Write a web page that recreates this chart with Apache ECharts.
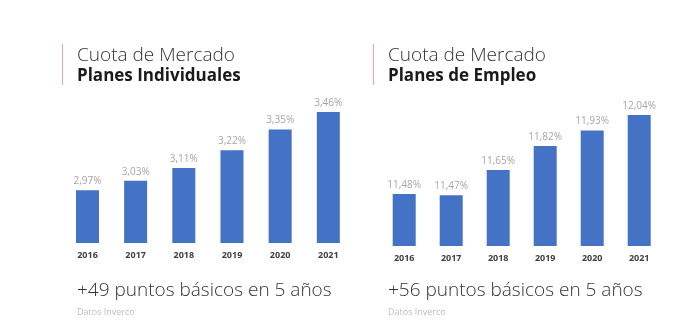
<!DOCTYPE html>
<html>
<head>
<meta charset="utf-8">
<script src="https://cdn.jsdelivr.net/npm/echarts@6/dist/echarts.min.js"></script>
<style>
  html, body { margin: 0; padding: 0; background: #ffffff; }
  #chart { width: 678px; height: 324px; }
</style>
</head>
<body>
<div id="chart"></div>
<script>
// Years shown on both panels
const years = ['2016', '2017', '2018', '2019', '2020', '2021'];
// Market share, individual plans (%)
const individualShare = [2.97, 3.03, 3.11, 3.22, 3.35, 3.46];
// Market share, employment plans (%)
const employmentShare = [11.48, 11.47, 11.65, 11.82, 11.93, 12.04];

const panelTitles = ['Planes Individuales', 'Planes de Empleo'];
const panelSubtitle = 'Cuota de Mercado';
const panelNotes = ['+49 puntos básicos en 5 años', '+56 puntos básicos en 5 años'];
const sourceNote = 'Datos Inverco';

const FONT = '"Open Sans", "Noto Sans", sans-serif';
const BAR = '#4472c4';

function pct(v) {
  return v.toFixed(2).replace('.', ',') + '%';
}

const chart = echarts.init(document.getElementById('chart'), null, { renderer: 'canvas' });

function headerGraphics(x, lineX, idx) {
  return [
    { type: 'rect', shape: { x: lineX, y: 44, width: 1, height: 41 }, style: { fill: '#f4a3a3' } },
    { type: 'text', x: x, y: 56, style: { text: panelSubtitle, font: '300 19px ' + FONT, fill: '#333333', textVerticalAlign: 'middle' } },
    { type: 'text', x: x, y: 76, style: { text: panelTitles[idx], font: '700 17px ' + FONT, fill: '#1a1a1a', textVerticalAlign: 'middle' } },
    { type: 'text', x: x, y: 291, style: { text: panelNotes[idx], font: '300 19px ' + FONT, fill: '#333333', textVerticalAlign: 'middle' } },
    { type: 'text', x: x, y: 312, style: { text: sourceNote, font: '9px ' + FONT, fill: '#bdbdbd', textVerticalAlign: 'middle' } }
  ];
}

const xAxisCommon = {
  type: 'category',
  data: years,
  axisLine: { show: false },
  axisTick: { show: false },
  axisLabel: { color: '#404040', fontSize: 9, fontWeight: 'bold', fontFamily: FONT, margin: 8 }
};
const yAxisCommon = {
  type: 'value',
  show: false,
  splitLine: { show: false }
};
const labelCommon = {
  show: true,
  position: 'top',
  distance: 4,
  color: '#a6a6a6',
  fontSize: 10,
  fontFamily: FONT,
  formatter: p => pct(p.value)
};

chart.setOption({
  animation: false,
  grid: [
    { left: 63.4, width: 289, top: 112, height: 131 },
    { left: 380.7, width: 282, top: 115, height: 131 }
  ],
  xAxis: [
    Object.assign({ gridIndex: 0 }, xAxisCommon),
    Object.assign({ gridIndex: 1 }, xAxisCommon)
  ],
  yAxis: [
    Object.assign({ gridIndex: 0, min: 2.64, max: 3.46 }, yAxisCommon),
    Object.assign({ gridIndex: 1, min: 11.11, max: 12.04 }, yAxisCommon)
  ],
  series: [
    { type: 'bar', xAxisIndex: 0, yAxisIndex: 0, data: individualShare, barWidth: 23, itemStyle: { color: BAR }, label: labelCommon },
    { type: 'bar', xAxisIndex: 1, yAxisIndex: 1, data: employmentShare, barWidth: 23, itemStyle: { color: BAR }, label: labelCommon }
  ],
  graphic: headerGraphics(77, 62, 0).concat(headerGraphics(388, 373, 1))
});
</script>
</body>
</html>
